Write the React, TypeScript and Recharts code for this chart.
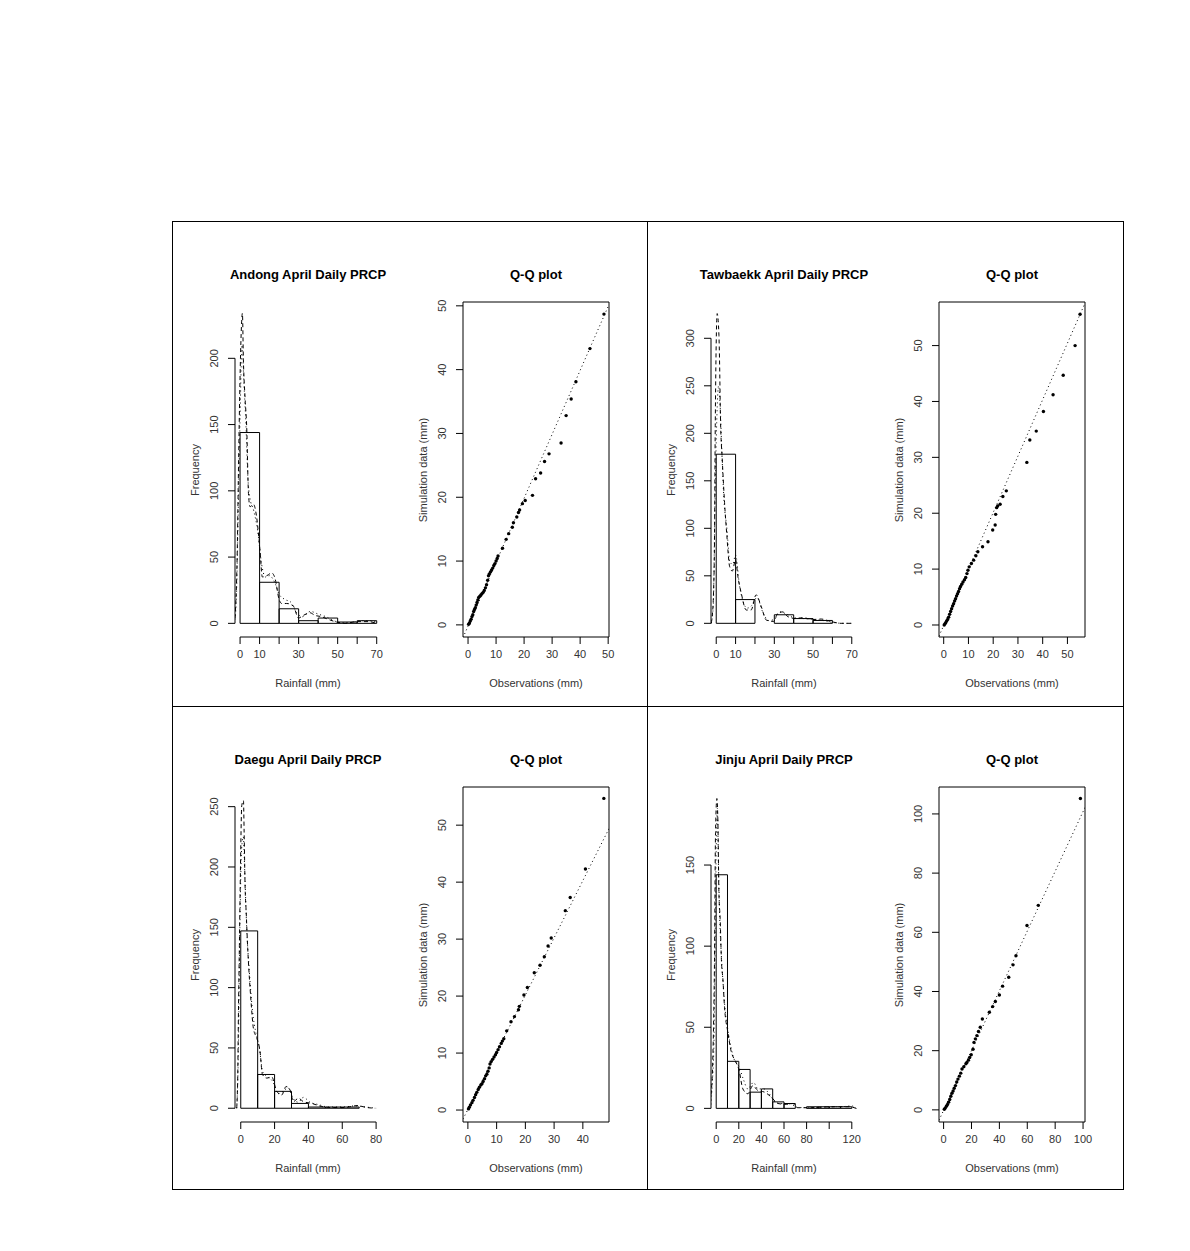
import React from "react";
import { ComposedChart, Line, Scatter, XAxis, YAxis, ReferenceArea, ReferenceLine } from "recharts";

// ---------- data: histograms (bin edges + counts) ----------
const andongEdges = [0, 10, 20, 30, 40, 50, 60, 70];
const andongCounts = [144, 31, 11, 2, 4, 1, 2];
const tawbaekkEdges = [0, 10, 20, 30, 40, 50, 60, 70];
const tawbaekkCounts = [178, 25, 0, 9, 5, 3, 0];
const daeguEdges = [0, 10, 20, 30, 40, 50, 60, 70, 80];
const daeguCounts = [147, 28, 14, 4, 1, 1, 1, 0];
const jinjuEdges = [0, 10, 20, 30, 40, 50, 60, 70, 80, 90, 100, 110, 120];
const jinjuCounts = [144, 29, 24, 10, 12, 4, 3, 0, 1, 1, 1, 1];

// ---------- data: density curves [x, frequency] ----------
const andongDensA: [number, number][] = [
  [-2.6, 4], [-1.5, 50], [-0.8, 118], [0.2, 200], [1.2, 234], [1.7, 199], [2.6, 169], [3.4, 148],
  [4.3, 98], [5.1, 88], [6.8, 90], [8.5, 80], [10.2, 55], [11.4, 35], [13.7, 36], [16.2, 38],
  [17.9, 34], [20, 18], [21.3, 15], [23.9, 15], [27.3, 13], [29.9, 4], [32.4, 6], [35.8, 8],
  [38.4, 6], [41.8, 5], [45.2, 3], [49.5, 1], [53.8, 0], [59.7, 1.3], [65.7, 1.3], [70, 0],
];
const andongDensB: [number, number][] = [
  [-3, 0], [-2, 15], [-1, 80], [0, 155], [1, 210], [2, 180], [3, 150], [4, 110], [5, 95], [7, 85],
  [9, 70], [11, 45], [13, 35], [15, 36], [18, 30], [20, 22], [23, 18], [26, 16], [29, 8], [32, 5],
  [36, 9], [40, 7], [44, 5], [48, 2], [52, 0.5], [56, 0.5], [62, 2], [66, 2], [70, 1],
];
const tawbaekkDensA: [number, number][] = [
  [-2.6, 0], [-2.1, 7], [-1.4, 32], [-0.9, 85], [-0.5, 208], [0.5, 326], [1.4, 303], [1.7, 278],
  [2.2, 215], [3.1, 173], [4.3, 127], [5.5, 92], [6.9, 60], [8.3, 55], [10, 67], [11.2, 49],
  [12.9, 32], [15.5, 14], [18, 14], [20.6, 30], [23.2, 18], [25.8, 3.5], [29.6, 2], [31.8, 10.6],
  [34.4, 12], [37, 7], [41.3, 5], [44.7, 6], [49.9, 4], [54.2, 4.5], [59.4, 1.8], [64.5, 0], [69.7, 0],
];
const tawbaekkDensB: [number, number][] = [
  [-2.6, 0], [-1.5, 20], [-0.7, 120], [0.3, 215], [1.2, 250], [2, 230], [3, 175], [4, 130],
  [5.5, 100], [7, 65], [8.5, 62], [10, 72], [12, 40], [14, 22], [16, 16], [18, 18], [21, 27],
  [24, 12], [27, 3], [30, 4], [33, 12], [36, 10], [40, 6], [45, 5], [50, 4], [55, 3], [60, 1],
  [65, 0], [70, 0],
];
const daeguDensA: [number, number][] = [
  [-2.4, 0], [-1.8, 25], [-1.4, 75], [-0.8, 135], [-0.2, 196], [0.6, 251], [1.6, 255], [2, 229],
  [2.6, 182], [3.2, 163], [4.1, 133], [5.1, 108], [6.1, 88], [7.5, 66], [9.5, 58], [11.4, 47],
  [12.8, 28], [15.4, 25], [18.3, 26], [21.3, 14], [24.2, 11], [26.8, 18], [29.2, 15], [31.1, 5.5],
  [34.1, 8.3], [37, 5.5], [42, 4], [47.9, 1.4], [53.8, 0.6], [61.7, 0.6], [68.6, 2.2], [74.5, 0.6],
  [79.4, 0],
];
const daeguDensB: [number, number][] = [
  [-2.4, 0], [-1.5, 40], [-0.5, 150], [0.5, 215], [1.5, 225], [2.5, 190], [3.5, 150], [5, 115],
  [7, 80], [9, 62], [11, 50], [13, 30], [16, 26], [19, 22], [22, 12], [25, 14], [28, 17], [31, 8],
  [34, 5], [37, 9], [41, 5], [46, 3], [52, 1], [60, 1], [68, 2], [74, 1], [80, 0],
];
const jinjuDensA: [number, number][] = [
  [-5.9, 0], [-4.4, 10], [-3.5, 20], [-2.4, 49], [-1.5, 92], [-0.6, 170], [0.6, 191], [1.5, 177],
  [2.4, 133], [3.5, 117], [4.7, 90], [5.9, 80], [7.4, 62], [10.3, 47], [13.3, 35], [17.1, 29],
  [20.1, 24], [23.6, 12], [28, 9], [32.4, 14], [36.9, 11], [42.8, 10], [48.7, 7], [54.6, 3],
  [61.9, 2.5], [67.8, 3], [72.3, 0.4], [82.6, 0.4], [94.4, 0.8], [106.2, 1], [118, 1], [123.9, 0],
];
const jinjuDensB: [number, number][] = [
  [-5, 0], [-3.5, 15], [-2, 40], [-1, 100], [0, 160], [1, 185], [2, 150], [3, 120], [4.5, 95],
  [6, 78], [8, 60], [10, 50], [13, 38], [16, 30], [20, 26], [24, 18], [28, 12], [33, 16], [37, 12],
  [42, 12], [47, 9], [52, 4], [57, 3], [63, 3], [68, 2], [72, 0.5], [80, 0.5], [90, 0.5], [100, 1],
  [110, 1], [120, 1.5], [124, 0],
];

// ---------- data: Q-Q quantiles (observed, simulated) ----------
const andongQQ: [number, number][] = [
  [0.2, 0.1], [0.5, 0.3], [0.8, 0.6], [1.1, 0.9], [1.4, 1.3], [1.7, 1.6], [2.0, 2.1], [2.3, 2.4],
  [2.6, 2.7], [2.9, 3.1], [3.2, 3.5], [3.5, 3.9], [3.8, 4.3], [4.2, 4.5], [4.6, 4.7], [5.0, 4.9],
  [5.4, 5.1], [5.8, 5.4], [6.2, 5.8], [6.6, 6.3], [7.0, 7.0], [7.3, 7.7], [7.6, 8.0], [8.0, 8.3],
  [8.4, 8.6], [8.8, 8.9], [9.2, 9.3], [9.6, 9.6], [10.0, 10.0], [10.4, 10.4], [10.7, 10.8],
  [12.3, 12.0], [13.6, 13.4], [14.5, 14.3], [15.8, 15.3], [16.2, 16.0], [17.4, 16.9], [18.0, 17.6],
  [18.4, 18.0], [19.4, 19.0], [20.4, 19.5], [23.0, 20.3], [24.1, 22.9], [25.9, 23.8], [27.3, 25.6],
  [28.9, 26.8], [33.2, 28.5], [35.0, 32.8], [36.8, 35.4], [38.5, 38.1], [43.5, 43.3], [48.5, 48.7],
];
const tawbaekkQQ: [number, number][] = [
  [0.2, 0.0], [0.5, 0.2], [0.8, 0.4], [1.2, 0.7], [1.6, 1.0], [2.0, 1.4], [2.4, 1.9], [2.8, 2.4],
  [3.2, 2.9], [3.6, 3.4], [4.0, 3.8], [4.4, 4.3], [4.8, 4.7], [5.2, 5.2], [5.6, 5.6], [6.0, 6.0],
  [6.4, 6.5], [6.8, 6.9], [7.3, 7.3], [7.8, 7.7], [8.4, 8.1], [8.9, 8.5], [9.4, 9.2], [9.8, 9.8],
  [10.3, 10.4], [11.2, 11.0], [12.1, 11.6], [13.0, 12.4], [13.8, 13.1], [15.7, 14.0], [17.9, 14.9],
  [19.8, 17.0], [20.8, 17.9], [21.0, 19.8], [21.4, 21.0], [21.8, 21.3], [22.8, 21.6], [23.9, 23.0],
  [25.3, 24.0], [33.6, 29.1], [34.8, 33.1], [37.4, 34.7], [40.3, 38.2], [44.2, 41.2], [48.3, 44.7],
  [53.1, 50.0], [55.1, 55.6],
];
const daeguQQ: [number, number][] = [
  [0.2, 0.2], [0.5, 0.5], [0.9, 0.9], [1.4, 1.3], [1.8, 1.7], [2.3, 2.2], [2.7, 2.7], [3.1, 3.1],
  [3.6, 3.6], [4.0, 4.0], [4.5, 4.4], [4.9, 4.6], [5.3, 5.0], [5.8, 5.5], [6.2, 6.0], [6.6, 6.3],
  [7.0, 6.8], [7.4, 7.4], [7.7, 8.1], [8.1, 8.5], [8.6, 8.9], [9.1, 9.3], [9.6, 9.7], [10.0, 10.1],
  [10.5, 10.6], [11.0, 11.1], [11.6, 11.7], [12.0, 12.1], [12.5, 12.5], [13.5, 13.9], [15.0, 15.5],
  [16.2, 16.4], [17.6, 17.6], [17.9, 18.2], [19.5, 20.2], [20.7, 21.5], [23.1, 24.1], [25.1, 25.4],
  [26.6, 26.9], [27.9, 28.8], [29.0, 30.2], [33.9, 35.0], [35.6, 37.3], [40.9, 42.3], [47.3, 54.7],
];
const jinjuQQ: [number, number][] = [
  [0.5, 0.2], [1.2, 0.6], [2.0, 1.2], [2.8, 1.8], [3.6, 2.6], [4.4, 3.5], [5.2, 4.6], [6.0, 5.6],
  [6.8, 6.4], [7.6, 7.3], [8.5, 8.2], [9.4, 9.4], [10.3, 10.4], [11.3, 11.4], [12.3, 12.4],
  [13.2, 13.8], [14.5, 14.6], [16.0, 15.6], [16.7, 16.0], [17.8, 16.8], [18.7, 17.7], [19.8, 18.6],
  [21.1, 20.5], [21.8, 22.8], [22.8, 24.0], [23.9, 25.1], [25.0, 26.5], [26.3, 27.9], [27.8, 30.7],
  [32.8, 33.0], [35.2, 34.9], [37.1, 36.6], [40.0, 38.8], [42.3, 41.8], [46.7, 44.8], [49.8, 49.0],
  [51.9, 52.1], [59.8, 62.3], [67.9, 69.1], [98.1, 105.2],
];

// reference lines of the Q-Q plots (two end points)
const andongQQLine: [number, number][] = [[-1.8, -2.0], [50.3, 50.2]];
const tawbaekkQQLine: [number, number][] = [[-1.9, -2.0], [57.1, 57.6]];
const daeguQQLine: [number, number][] = [[-1.7, -1.6], [49.1, 49.4]];
const jinjuQQLine: [number, number][] = [[-3.3, -3.5], [101.4, 102.2]];

// ---------- ticks ----------
const andongHistXTicks = [0, 10, 20, 30, 40, 50, 60, 70];
const andongHistXLabels = [0, 10, 30, 50, 70];
const andongHistYTicks = [0, 50, 100, 150, 200];
const tawbaekkHistXTicks = [0, 10, 20, 30, 40, 50, 60, 70];
const tawbaekkHistXLabels = [0, 10, 30, 50, 70];
const tawbaekkHistYTicks = [0, 50, 100, 150, 200, 250, 300];
const daeguHistXTicks = [0, 20, 40, 60, 80];
const daeguHistYTicks = [0, 50, 100, 150, 200, 250];
const jinjuHistXTicks = [0, 20, 40, 60, 80, 100, 120];
const jinjuHistXLabels = [0, 20, 40, 60, 80, 120];
const jinjuHistYTicks = [0, 50, 100, 150];

const andongQQXTicks = [0, 10, 20, 30, 40, 50];
const andongQQYTicks = [0, 10, 20, 30, 40, 50];
const tawbaekkQQXTicks = [0, 10, 20, 30, 40, 50];
const tawbaekkQQYTicks = [0, 10, 20, 30, 40, 50];
const daeguQQXTicks = [0, 10, 20, 30, 40];
const daeguQQYTicks = [0, 10, 20, 30, 40, 50];
const jinjuQQXTicks = [0, 20, 40, 60, 80, 100];
const jinjuQQYTicks = [0, 20, 40, 60, 80, 100];

// ---------- layout ----------
const PLOT_W = 146;
const PLOT_H = 335;
const AXIS_W = 40;
const AXIS_H = 40;
const PAD_T = 12; // room for tick labels above / right of the plot region
const PAD_R = 16;
const FONT = "'Liberation Sans', Arial, sans-serif";
const TXT = "#333";

const pts = (a: [number, number][]) => a.map(([x, y]) => ({ x, y }));

function xTick(labels?: number[]) {
  return (p: any) => {
    const v = p.payload.value;
    if (labels && !labels.includes(v)) return <g />;
    return (
      <text x={p.x} y={p.y} dy="0.71em" textAnchor="middle" fontSize={11} fill={TXT} fontFamily={FONT}>
        {v}
      </text>
    );
  };
}

const yTick = (p: any) => (
  <text
    x={p.x}
    y={p.y}
    textAnchor="middle"
    transform={`rotate(-90 ${p.x} ${p.y})`}
    fontSize={11}
    fill={TXT}
    fontFamily={FONT}
  >
    {p.payload.value}
  </text>
);

function Texts({ left, top, title, xLabel, yLabel }: any) {
  const base: React.CSSProperties = { position: "absolute", width: 220, height: 16, lineHeight: "16px", textAlign: "center", fontFamily: FONT, whiteSpace: "nowrap" };
  return (
    <>
      <div style={{ ...base, left: left + PLOT_W / 2 - 110, top: top - 35, fontWeight: "bold", fontSize: 13, color: "#000" }}>{title}</div>
      <div style={{ ...base, left: left + PLOT_W / 2 - 110, top: top + PLOT_H + 38, fontSize: 11, color: TXT }}>{xLabel}</div>
      <div style={{ ...base, left: left - 40 - 110, top: top + PLOT_H / 2 - 8, fontSize: 11, color: TXT, transform: "rotate(-90deg)" }}>{yLabel}</div>
    </>
  );
}

function Frame({ left, top, children }: any) {
  return (
    <div style={{ position: "absolute", left: left - AXIS_W, top: top - PAD_T }}>
      <ComposedChart width={AXIS_W + PLOT_W + PAD_R} height={PAD_T + PLOT_H + AXIS_H}
        margin={{ top: PAD_T, right: PAD_R, bottom: 0, left: 0 }}>
        {children}
      </ComposedChart>
    </div>
  );
}

function Hist({ left, top, title, edges, counts, densA, densB, xDomain, yDomain, xTicks, xLabels, yTicks }: any) {
  const bins = counts.map((c: number, i: number) => ({ x1: edges[i], x2: edges[i + 1], y: c }));
  return (
    <>
      <Texts left={left} top={top} title={title} xLabel="Rainfall (mm)" yLabel="Frequency" />
      <Frame left={left} top={top}>
        <XAxis type="number" dataKey="x" domain={xDomain} ticks={xTicks} interval={0} allowDataOverflow
          height={AXIS_H} axisLine={false} tickSize={7} tickMargin={6} tickLine={{ stroke: "#000" }} tick={xTick(xLabels)} />
        <YAxis type="number" dataKey="y" domain={yDomain} ticks={yTicks} interval={0} allowDataOverflow
          width={AXIS_W} axisLine={false} tickSize={7} tickMargin={10} tickLine={{ stroke: "#000" }} tick={yTick} />
        {bins.map((b: any) => (
          <ReferenceArea key={b.x1} x1={b.x1} x2={b.x2} y1={0} y2={b.y} fill="none" stroke="#000" strokeWidth={1} fillOpacity={0} ifOverflow="visible" />
        ))}
        <ReferenceLine segment={[{ x: xTicks[0], y: yDomain[0] }, { x: xTicks[xTicks.length - 1], y: yDomain[0] }]} stroke="#000" ifOverflow="visible" />
        <ReferenceLine segment={[{ x: xDomain[0], y: yTicks[0] }, { x: xDomain[0], y: yTicks[yTicks.length - 1] }]} stroke="#000" ifOverflow="visible" />
        <Line data={pts(densA)} dataKey="y" type="monotone" dot={false} stroke="#000" strokeWidth={1} strokeDasharray="4 3" isAnimationActive={false} />
        <Line data={pts(densB)} dataKey="y" type="monotone" dot={false} stroke="#000" strokeWidth={1} strokeDasharray="1 3" isAnimationActive={false} />
      </Frame>
    </>
  );
}

function QQ({ left, top, qq, line, xDomain, yDomain, xTicks, yTicks }: any) {
  return (
    <>
      <Texts left={left} top={top} title="Q-Q plot" xLabel="Observations (mm)" yLabel="Simulation data (mm)" />
      <Frame left={left} top={top}>
        <XAxis type="number" dataKey="x" domain={xDomain} ticks={xTicks} interval={0} allowDataOverflow
          height={AXIS_H} axisLine={false} tickSize={7} tickMargin={6} tickLine={{ stroke: "#000" }} tick={xTick()} />
        <YAxis type="number" dataKey="y" domain={yDomain} ticks={yTicks} interval={0} allowDataOverflow
          width={AXIS_W} axisLine={false} tickSize={7} tickMargin={10} tickLine={{ stroke: "#000" }} tick={yTick} />
        <ReferenceArea x1={xDomain[0]} x2={xDomain[1]} y1={yDomain[0]} y2={yDomain[1]} fill="none" fillOpacity={0} stroke="#000" ifOverflow="visible" />
        <Line data={pts(line)} dataKey="y" type="linear" dot={false} stroke="#000" strokeWidth={1} strokeDasharray="1 3" isAnimationActive={false} />
        <Scatter data={pts(qq)} dataKey="y" isAnimationActive={false}
          shape={(p: any) => <circle cx={p.cx} cy={p.cy} r={1.7} fill="#000" />} />
      </Frame>
    </>
  );
}

const COL_HIST = [235, 711];
const COL_QQ = [463, 939];
const ROW = [302, 787];

export default function App() {
  return (
    <div style={{ position: "absolute", left: 0, top: 0, width: 1190, height: 1251, background: "#fff", fontFamily: FONT }}>
      <div style={{ position: "absolute", left: 172, top: 221, width: 952, height: 969, border: "1px solid #000", boxSizing: "border-box" }} />
      <div style={{ position: "absolute", left: 647, top: 221, width: 1, height: 969, background: "#000" }} />
      <div style={{ position: "absolute", left: 172, top: 706, width: 952, height: 1, background: "#000" }} />

      <Hist left={COL_HIST[0]} top={ROW[0]} title="Andong April Daily PRCP" edges={andongEdges} counts={andongCounts}
        densA={andongDensA} densB={andongDensB} xDomain={[-2.6, 72.2]} yDomain={[-10.3, 242.5]}
        xTicks={andongHistXTicks} xLabels={andongHistXLabels} yTicks={andongHistYTicks} />
      <QQ left={COL_QQ[0]} top={ROW[0]} qq={andongQQ} line={andongQQLine} xDomain={[-1.8, 50.3]} yDomain={[-1.9, 50.6]}
        xTicks={andongQQXTicks} yTicks={andongQQYTicks} />

      <Hist left={COL_HIST[1]} top={ROW[0]} title="Tawbaekk April Daily PRCP" edges={tawbaekkEdges} counts={tawbaekkCounts}
        densA={tawbaekkDensA} densB={tawbaekkDensB} xDomain={[-2.7, 72.7]} yDomain={[-14.4, 338.2]}
        xTicks={tawbaekkHistXTicks} xLabels={tawbaekkHistXLabels} yTicks={tawbaekkHistYTicks} />
      <QQ left={COL_QQ[1]} top={ROW[0]} qq={tawbaekkQQ} line={tawbaekkQQLine} xDomain={[-1.9, 57.1]} yDomain={[-2.15, 57.8]}
        xTicks={tawbaekkQQXTicks} yTicks={tawbaekkQQYTicks} />

      <Hist left={COL_HIST[0]} top={ROW[1]} title="Daegu April Daily PRCP" edges={daeguEdges} counts={daeguCounts}
        densA={daeguDensA} densB={daeguDensB} xDomain={[-3.4, 82.9]} yDomain={[-11.4, 266.3]}
        xTicks={daeguHistXTicks} yTicks={daeguHistYTicks} />
      <QQ left={COL_QQ[0]} top={ROW[1]} qq={daeguQQ} line={daeguQQLine} xDomain={[-1.7, 49.1]} yDomain={[-2.1, 56.7]}
        xTicks={daeguQQXTicks} yTicks={daeguQQYTicks} />

      <Hist left={COL_HIST[1]} top={ROW[1]} title="Jinju April Daily PRCP" edges={jinjuEdges} counts={jinjuCounts}
        densA={jinjuDensA} densB={jinjuDensB} xDomain={[-4.6, 124.6]} yDomain={[-8.4, 198.1]}
        xTicks={jinjuHistXTicks} xLabels={jinjuHistXLabels} yTicks={jinjuHistYTicks} />
      <QQ left={COL_QQ[1]} top={ROW[1]} qq={jinjuQQ} line={jinjuQQLine} xDomain={[-3.3, 101.4]} yDomain={[-4.1, 109.1]}
        xTicks={jinjuQQXTicks} yTicks={jinjuQQYTicks} />
    </div>
  );
}
